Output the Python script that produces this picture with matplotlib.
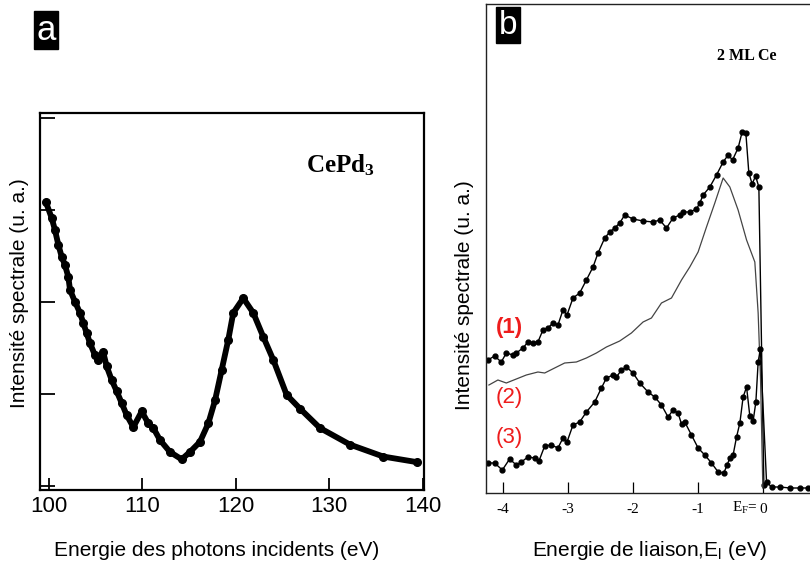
import matplotlib
matplotlib.use("Agg")
import matplotlib.pyplot as plt
import matplotlib.transforms as mtransforms

plt.rcParams["font.family"] = ["Liberation Sans", "DejaVu Sans"]
plt.rcParams["mathtext.default"] = "regular"

# --- panel a: CePd3 resonant photoemission (photon energy scan) ---
a_energy = [99.70, 100.31, 100.66, 101.02, 101.38, 101.73, 102.09, 102.27, 102.80,
            103.34, 103.69, 104.05, 104.41, 104.94, 105.29, 105.83, 106.19, 106.73,
            107.26, 107.80, 108.33, 109.04, 109.94, 110.64, 111.18, 111.89, 112.96,
            114.21, 115.10, 116.17, 117.06, 117.78, 118.49, 119.20, 119.73, 120.80,
            121.87, 122.94, 124.01, 125.44, 126.87, 129.00, 132.21, 135.78, 139.35]
a_intensity = [3.08, 2.91, 2.78, 2.62, 2.49, 2.40, 2.27, 2.13, 2.00,
               1.88, 1.77, 1.66, 1.55, 1.42, 1.37, 1.45, 1.30, 1.15,
               1.03, 0.90, 0.77, 0.64, 0.81, 0.68, 0.63, 0.50, 0.37,
               0.29, 0.37, 0.48, 0.68, 0.93, 1.26, 1.59, 1.88, 2.04,
               1.88, 1.62, 1.37, 0.99, 0.84, 0.63, 0.45, 0.32, 0.26]
a_xticks = [100, 110, 120, 130, 140]
a_yticks = [0, 1, 2, 3, 4]

# --- panel b: 2 ML Ce, binding-energy spectra ---
b1_energy = [-4.231, -4.128, -4.025, -3.948, -3.846, -3.794, -3.692, -3.615, -3.538,
             -3.462, -3.385, -3.308, -3.231, -3.154, -3.077, -3.015, -2.923, -2.820,
             -2.717, -2.615, -2.538, -2.435, -2.358, -2.282, -2.205, -2.128, -2.000,
             -1.846, -1.692, -1.589, -1.486, -1.385, -1.282, -1.231, -1.128, -1.025,
             -0.974, -0.923, -0.820, -0.717, -0.615, -0.538, -0.471, -0.385, -0.323,
             -0.266, -0.220, -0.169, -0.117, -0.066, 0.011]
b1_intensity = [1.33, 1.37, 1.31, 1.40, 1.38, 1.40, 1.45, 1.51, 1.50,
                1.51, 1.63, 1.65, 1.70, 1.68, 1.83, 1.78, 1.95, 2.00,
                2.13, 2.26, 2.40, 2.55, 2.61, 2.65, 2.70, 2.78, 2.74,
                2.72, 2.71, 2.73, 2.65, 2.75, 2.78, 2.81, 2.81, 2.84,
                2.90, 2.98, 3.06, 3.18, 3.31, 3.38, 3.33, 3.45, 3.61,
                3.60, 3.20, 3.09, 3.17, 3.06, 0.08]

b2_energy = [-4.215, -4.077, -3.948, -3.794, -3.640, -3.462, -3.358, -3.205, -3.051,
             -2.871, -2.717, -2.563, -2.409, -2.205, -2.025, -1.846, -1.717, -1.563,
             -1.409, -1.255, -1.128, -1.000, -0.871, -0.743, -0.615, -0.512, -0.385,
             -0.255, -0.128, -0.077, -0.040, -0.005]
b2_intensity = [1.08, 1.13, 1.10, 1.14, 1.18, 1.21, 1.20, 1.25, 1.30,
                1.31, 1.35, 1.40, 1.46, 1.52, 1.60, 1.71, 1.75, 1.90,
                1.95, 2.13, 2.26, 2.41, 2.66, 2.90, 3.15, 3.06, 2.83,
                2.53, 2.31, 1.80, 1.13, 0.05]

b3_energy = [-4.231, -4.128, -4.009, -3.897, -3.794, -3.717, -3.615, -3.512, -3.446,
             -3.358, -3.255, -3.154, -3.077, -3.015, -2.923, -2.820, -2.717, -2.589,
             -2.486, -2.409, -2.308, -2.255, -2.178, -2.102, -2.000, -1.897, -1.769,
             -1.666, -1.563, -1.462, -1.385, -1.308, -1.255, -1.205, -1.102, -1.000,
             -0.897, -0.794, -0.692, -0.605, -0.554, -0.512, -0.462, -0.409, -0.358,
             -0.308, -0.255, -0.205, -0.154, -0.112, -0.077, -0.043, 0.052, 0.129,
             0.257, 0.411, 0.565, 0.692]
b3_intensity = [0.30, 0.30, 0.23, 0.34, 0.28, 0.31, 0.36, 0.35, 0.32,
                0.47, 0.48, 0.45, 0.55, 0.51, 0.68, 0.71, 0.81, 0.91,
                1.05, 1.15, 1.18, 1.16, 1.23, 1.26, 1.20, 1.10, 1.01,
                0.96, 0.88, 0.76, 0.83, 0.80, 0.69, 0.71, 0.58, 0.45,
                0.38, 0.30, 0.21, 0.20, 0.28, 0.35, 0.38, 0.56, 0.70,
                0.96, 1.06, 0.77, 0.72, 0.91, 1.31, 1.44, 0.11, 0.06,
                0.06, 0.05, 0.05, 0.05]
b_xticks = [-4, -3, -2, -1, 0]
b_xticklabels = ["-4", "-3", "-2", "-1", "0"]
curve_labels = ["(1)", "(2)", "(3)"]

W, H = 810, 568


def panel_a(fig):
    ax = fig.add_axes([40 / W, 1 - 490 / H, 384 / W, 377 / H])
    ax.plot(a_energy, a_intensity, color="black", lw=4.2, marker="o", ms=5.5,
            solid_joinstyle="round", solid_capstyle="round")
    ax.set_xlim(99.06, 140.13)
    ax.set_ylim(-0.043, 4.05)
    ax.set_xticks(a_xticks)
    ax.set_yticks(a_yticks)
    ax.set_yticklabels([])
    ax.tick_params(direction="in", length=9, width=1.3, labelsize=16, pad=4)
    ax.tick_params(axis="y", length=11)
    for s in ax.spines.values():
        s.set_linewidth(1.6)
    ax.text(306 / W, 1 - 172 / H, "CePd$_3$", transform=fig.transFigure,
            family="Liberation Serif", fontweight="bold", fontsize=18)
    fig.text(46 / W, 1 - 30 / H, "a", color="white", fontsize=25, ha="center",
             va="center", bbox=dict(boxstyle="square,pad=0.08", fc="black", ec="black"))
    fig.text(217 / W, 1 - 551 / H, "Energie des photons incidents (eV)", fontsize=15,
             ha="center", va="center")
    fig.text(20 / W, 1 - 293 / H, "Intensité spectrale (u. a.)", fontsize=15,
             rotation=90, ha="center", va="center")


def panel_b(fig):
    ax = fig.add_axes([486 / W, 1 - 493 / H, 324 / W, 489 / H])
    ax.plot(b1_energy, b1_intensity, color="black", lw=1.0, marker="o", ms=3.5)
    ax.plot(b2_energy, b2_intensity, color="#444444", lw=0.9)
    ax.plot(b3_energy, b3_intensity, color="black", lw=1.0, marker="o", ms=3.5)
    ax.set_xlim(-4.26, 0.72)
    ax.set_ylim(0, 4.89)
    ax.set_xticks(b_xticks)
    ax.set_xticklabels(b_xticklabels, family="Liberation Serif", fontsize=11)
    ax.set_yticks([])
    ax.tick_params(axis="x", direction="in", length=8, width=0.9, pad=7)
    ax.spines["right"].set_visible(False)
    for s in ["left", "top", "bottom"]:
        ax.spines[s].set_linewidth(1.0)
        ax.spines[s].set_color("#222222")
    trans = mtransforms.blended_transform_factory(ax.transData, ax.transAxes)
    ax.text(-0.09, -0.031, "E$_F$=", transform=trans, ha="right", va="center",
            family="Liberation Serif", fontsize=11)
    fig.text(717 / W, 1 - 60 / H, "2 ML Ce", family="Liberation Serif",
             fontweight="bold", fontsize=11.5)
    fig.text(508 / W, 1 - 25 / H, "b", color="white", fontsize=24, ha="center",
             va="center", bbox=dict(boxstyle="square,pad=0.08", fc="black", ec="black"))
    ys = [328, 398, 437]
    for lab, y, w in zip(curve_labels, ys, ["bold", "normal", "normal"]):
        fig.text(509 / W, 1 - y / H, lab, color="#ee1c1c", fontsize=16,
                 fontweight=w, ha="center", va="center")
    fig.text(650 / W, 1 - 551 / H, "Energie de liaison,E$_l$ (eV)", fontsize=15,
             ha="center", va="center")
    fig.text(465 / W, 1 - 295 / H, "Intensité spectrale (u. a.)", fontsize=15,
             rotation=90, ha="center", va="center")


def main():
    fig = plt.figure(figsize=(W / 100, H / 100), dpi=100)
    panel_a(fig)
    panel_b(fig)
    fig.savefig("out.png", dpi=100)


if __name__ == "__main__":
    main()
